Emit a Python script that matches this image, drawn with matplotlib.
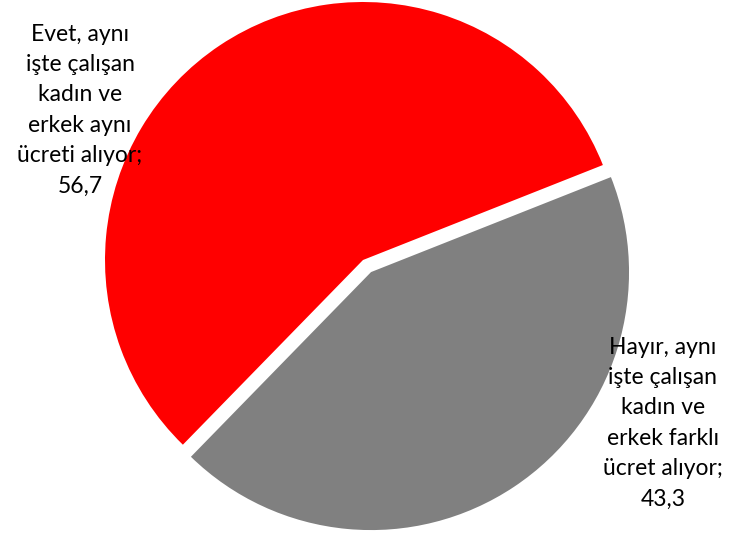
import matplotlib.pyplot as plt

labels = ['Evet, aynı\nişte çalışan\nkadın ve\nerkek aynı\nücreti alıyor;\n56,7',
          'Hayır, aynı\nişte çalışan\nkadın ve\nerkek farklı\nücret alıyor;\n43,3']
values = [56.7, 43.3]
colors = ['#ff0000', '#808080']

plt.rcParams['font.family'] = ['Lato', 'DejaVu Sans']

fig = plt.figure(figsize=(7.33, 5.36), dpi=100)
ax = fig.add_axes([0, 0, 1, 1])

# pie in pixel coords (y up)
cx, cy, r = 363, 536 - 260, 258
ax.pie(values, colors=colors, startangle=21.6, explode=[0, 14.5],
       center=(cx, cy), radius=r, frame=True,
       wedgeprops=dict(linewidth=0))
ax.set_xlim(0, 733)
ax.set_ylim(0, 536)
ax.set_aspect('equal')
ax.axis('off')

ax.text(80, 536 - 110, labels[0], ha='center', va='center', fontsize=16.5,
        linespacing=1.55, color='black')
ax.text(663, 536 - 423, labels[1], ha='center', va='center', fontsize=16.5,
        linespacing=1.55, color='black')

fig.savefig('out.png', dpi=100)
